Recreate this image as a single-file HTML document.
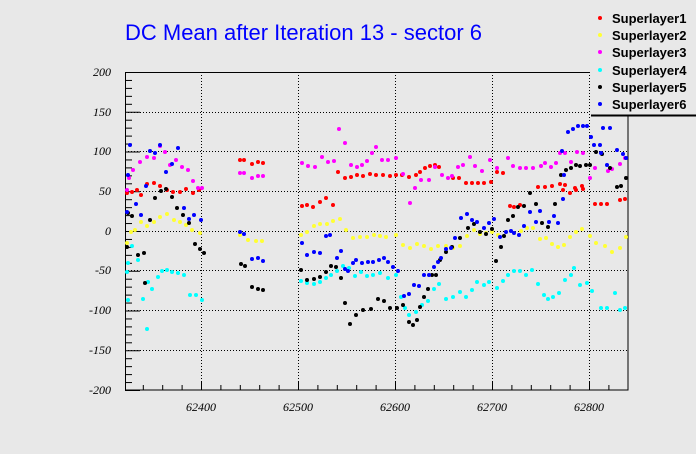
<!DOCTYPE html>
<html><head><meta charset="utf-8"><style>
body{margin:0;background:#e8e8e8;}
svg{display:block;}
.ax{font-family:"Liberation Serif",serif;font-style:italic;font-size:12px;fill:#000;}
.lg{font-family:"Liberation Sans",sans-serif;font-weight:bold;font-size:13px;fill:#000;}
</style></head><body>
<svg width="696" height="454" viewBox="0 0 696 454" xmlns="http://www.w3.org/2000/svg">
<rect width="696" height="454" fill="#e8e8e8"/>
<text x="125" y="40" font-family="Liberation Sans,sans-serif" font-size="22" fill="#0000ff" textLength="357" lengthAdjust="spacingAndGlyphs">DC Mean after Iteration 13 - sector 6</text>
<g stroke="#000" stroke-width="1" stroke-dasharray="1,2">
<line x1="201.5" y1="72" x2="201.5" y2="390"/><line x1="298.5" y1="72" x2="298.5" y2="390"/><line x1="395.5" y1="72" x2="395.5" y2="390"/><line x1="492.5" y1="72" x2="492.5" y2="390"/><line x1="589.5" y1="72" x2="589.5" y2="390"/>
<line x1="125" y1="112.5" x2="628" y2="112.5"/><line x1="125" y1="151.5" x2="628" y2="151.5"/><line x1="125" y1="191.5" x2="628" y2="191.5"/><line x1="125" y1="231.5" x2="628" y2="231.5"/><line x1="125" y1="270.5" x2="628" y2="270.5"/><line x1="125" y1="310.5" x2="628" y2="310.5"/><line x1="125" y1="350.5" x2="628" y2="350.5"/>
</g>
<rect x="125.5" y="72.5" width="502.5" height="317.5" fill="none" stroke="#000"/>
<g id="ticks" stroke="#000"></g>
<g class="ax" text-anchor="end">
<text x="111" y="76">200</text><text x="111" y="116">150</text><text x="111" y="155">100</text><text x="111" y="195">50</text><text x="111" y="235">0</text><text x="111" y="274">-50</text><text x="111" y="314">-100</text><text x="111" y="354">-150</text><text x="111" y="394">-200</text>
</g>
<g class="ax" text-anchor="middle">
<text x="201" y="411">62400</text><text x="298" y="411">62500</text><text x="395" y="411">62600</text><text x="492" y="411">62700</text><text x="589" y="411">62800</text>
</g>
<g id="pts"></g>
<rect x="590" y="0" width="106" height="115" fill="#e8e8e8"/>
<line x1="591" y1="115.5" x2="696" y2="115.5" stroke="#000" stroke-width="2"/>
<circle cx="600" cy="18" r="2" fill="#ff0000"/><text class="lg" x="612" y="23">Superlayer1</text>
<circle cx="600" cy="35" r="2" fill="#ffff33"/><text class="lg" x="612" y="40">Superlayer2</text>
<circle cx="600" cy="52" r="2" fill="#ff00ff"/><text class="lg" x="612" y="57">Superlayer3</text>
<circle cx="600" cy="70" r="2" fill="#00ffff"/><text class="lg" x="612" y="75">Superlayer4</text>
<circle cx="600" cy="87" r="2" fill="#000000"/><text class="lg" x="612" y="92">Superlayer5</text>
<circle cx="600" cy="104" r="2" fill="#0000ff"/><text class="lg" x="612" y="109">Superlayer6</text>
</svg>
<script>
var NS="http://www.w3.org/2000/svg";
var t=document.getElementById("ticks");
function L(a,b,c,d){var l=document.createElementNS(NS,"line");l.setAttribute("x1",a);l.setAttribute("y1",b);l.setAttribute("x2",c);l.setAttribute("y2",d);t.appendChild(l);}
for(var v=-200;v<=200;v+=10){var y=231.5-v*0.795;L(125,y,(v%50==0)?140:132,y);}
for(var v=62320;v<=62840;v+=20){var x=201.5+(v-62400)*0.97;if(x<126||x>627)continue;L(x,390,x,(v%100==0)?381:385);}
var S={
"#ff0000":[[127,193],[132,192],[137,190],[141,195],[147,184],[154,183],[160,186],[167,190],[173,192],[180,192],[186,189],[193,193],[199,190],[240,160],[244,160],[252,164],[258,162],[263,163],[302,206],[307,205],[313,207],[320,202],[326,198],[333,205],[338,172],[345,178],[351,177],[357,175],[363,176],[370,174],[376,175],[383,175],[390,176],[396,175],[402,175],[409,177],[416,175],[420,172],[425,168],[430,166],[435,165],[439,167],[453,178],[459,178],[466,183],[472,183],[478,183],[484,183],[491,182],[497,172],[503,173],[510,206],[514,207],[520,205],[538,187],[545,187],[552,186],[560,184],[565,185],[575,188],[582,186],[563,190],[570,193],[576,190],[583,189],[595,204],[601,204],[607,204],[620,200],[625,199]],
"#ffff33":[[127,243],[131,232],[135,230],[141,222],[147,226],[154,222],[160,217],[167,214],[174,220],[180,222],[186,225],[192,230],[200,233],[240,235],[248,240],[256,241],[262,241],[301,235],[307,232],[314,226],[320,224],[327,224],[333,221],[340,219],[346,230],[353,238],[360,237],[367,237],[374,235],[380,236],[386,237],[396,235],[403,245],[410,248],[417,244],[424,246],[431,249],[438,246],[446,246],[453,248],[460,246],[467,236],[474,230],[480,234],[486,233],[492,232],[498,235],[506,232],[514,233],[521,231],[527,228],[533,228],[540,239],[546,238],[552,244],[558,247],[564,245],[570,237],[576,232],[582,229],[590,236],[596,243],[605,246],[612,252],[620,248],[626,237]],
"#ff00ff":[[127,190],[129,178],[133,170],[140,162],[147,157],[154,158],[160,146],[165,152],[170,165],[176,160],[182,167],[188,170],[193,181],[198,188],[202,188],[240,173],[244,173],[252,178],[258,176],[263,176],[302,163],[308,166],[315,167],[322,157],[328,162],[334,161],[339,129],[345,143],[351,165],[357,167],[362,165],[367,161],[372,153],[376,147],[382,160],[388,160],[396,158],[403,174],[410,203],[415,188],[421,180],[429,180],[435,167],[442,175],[448,178],[452,176],[458,167],[463,165],[470,157],[475,166],[482,171],[490,160],[497,168],[508,158],[513,166],[520,168],[526,168],[533,168],[541,166],[545,163],[551,167],[556,163],[560,153],[565,153],[571,162],[577,152],[583,153],[590,178],[595,168],[608,171],[612,169],[620,164],[625,158]],
"#00ffff":[[127,272],[128,263],[132,246],[138,260],[143,299],[148,282],[152,289],[158,277],[162,271],[167,270],[172,272],[178,273],[184,275],[190,295],[196,295],[202,300],[128,300],[147,329],[301,281],[307,283],[314,284],[320,282],[326,278],[331,275],[337,271],[343,266],[349,268],[355,276],[361,272],[367,276],[373,275],[380,273],[388,278],[396,275],[401,297],[405,308],[409,315],[416,312],[422,305],[428,301],[434,289],[439,284],[446,299],[453,297],[460,292],[466,297],[472,290],[477,282],[484,285],[489,282],[497,288],[503,281],[508,275],[514,271],[520,271],[526,275],[532,270],[538,284],[544,295],[548,299],[553,297],[559,293],[565,280],[571,275],[574,268],[580,285],[587,283],[592,291],[601,308],[607,308],[615,293],[620,310],[625,308]],
"#000000":[[127,247],[128,213],[132,216],[138,255],[144,253],[150,220],[155,198],[161,191],[166,189],[172,197],[177,208],[183,215],[189,223],[195,244],[200,249],[204,253],[145,283],[241,264],[245,266],[252,287],[258,289],[263,290],[301,270],[307,280],[314,279],[320,277],[326,272],[331,266],[336,267],[341,278],[345,303],[350,324],[356,315],[363,310],[371,309],[378,299],[384,301],[390,308],[397,308],[403,305],[409,322],[413,325],[417,320],[420,307],[424,297],[428,289],[432,275],[436,275],[440,260],[446,252],[452,247],[460,238],[468,228],[474,224],[480,232],[486,234],[492,229],[496,261],[501,247],[504,236],[508,220],[513,216],[518,207],[524,206],[530,193],[536,204],[542,223],[548,227],[555,204],[561,175],[566,170],[571,168],[576,165],[580,166],[586,165],[590,165],[596,152],[602,154],[610,168],[617,187],[621,186],[626,178]],
"#0000ff":[[127,212],[128,175],[130,145],[136,204],[141,215],[146,186],[150,151],[155,153],[160,145],[166,172],[172,164],[178,148],[184,208],[189,219],[194,215],[201,220],[240,232],[244,234],[252,259],[258,258],[263,261],[302,243],[307,255],[314,252],[320,253],[326,236],[330,235],[337,258],[341,251],[345,269],[348,271],[353,263],[356,260],[362,263],[368,262],[373,262],[379,260],[384,258],[388,262],[393,267],[398,271],[404,296],[409,294],[414,285],[419,286],[424,275],[429,275],[434,267],[438,262],[441,258],[446,249],[451,248],[455,238],[461,218],[467,214],[472,220],[477,222],[484,228],[489,223],[494,219],[500,237],[506,232],[511,231],[514,233],[519,235],[524,226],[530,212],[536,222],[540,211],[549,222],[554,216],[558,223],[563,199],[568,132],[573,129],[578,126],[583,126],[587,126],[591,137],[594,145],[600,145],[603,128],[610,128],[601,153],[607,165],[617,150],[623,154],[626,158],[562,151],[564,175]]
};
var g=document.getElementById("pts");
for(var c in S){S[c].forEach(function(p){var e=document.createElementNS(NS,"circle");e.setAttribute("cx",p[0]);e.setAttribute("cy",p[1]);e.setAttribute("r","2");e.setAttribute("fill",c);g.appendChild(e);});}
</script>
</body></html>
